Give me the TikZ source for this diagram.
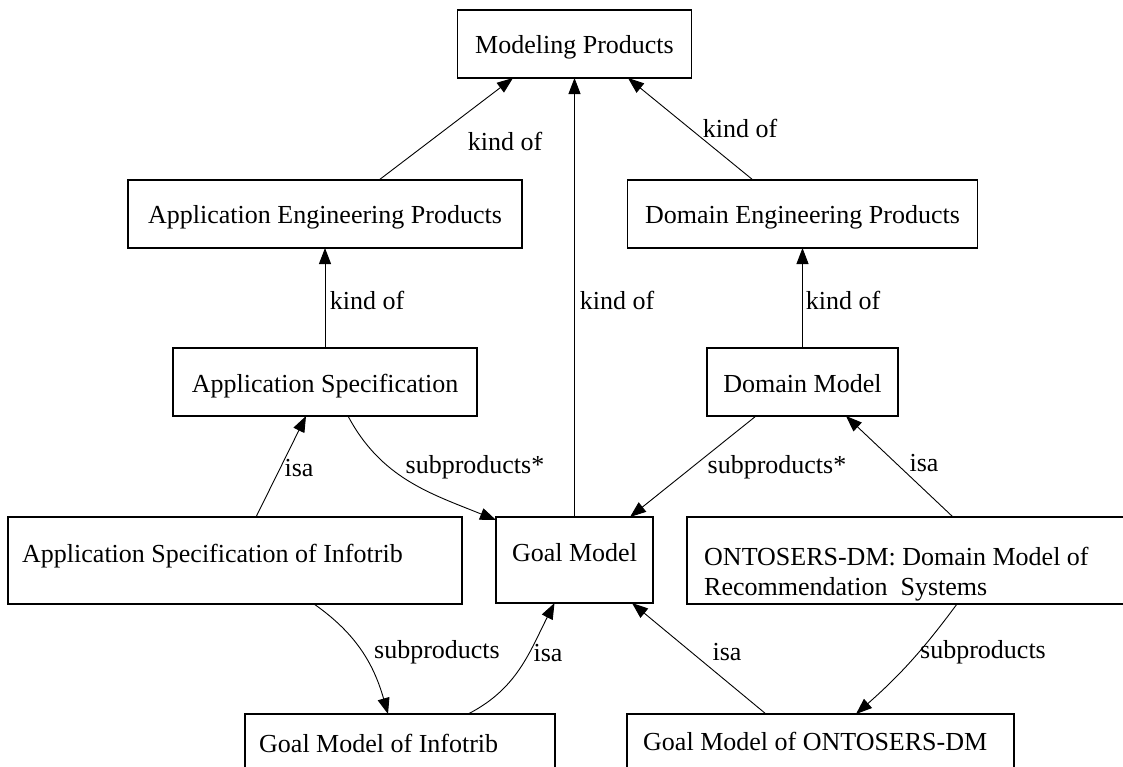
\documentclass[tikz,border=0pt]{standalone}
\usepackage{fontspec}
\setmainfont{Liberation Serif}
\usetikzlibrary{arrows.meta}
\begin{document}
\begin{tikzpicture}[x=1pt,y=-1pt,
  box/.style={draw, line width=1.3pt, inner sep=0pt, outer sep=0pt},
  txt/.style={inner sep=0pt, font=\fontsize{26}{30}\selectfont},
  lbl/.style={inner sep=0pt, font=\fontsize{26}{30}\selectfont},
  link/.style={line width=0.9pt, -{Triangle[length=16pt,width=12pt]}},
]
\clip (0,0) rectangle (1123,766);
\fill[white] (0,0) rectangle (1123,766);

% boxes
\node[box, minimum width=234pt, minimum height=68pt] (mp)   at (574.5,44)  {};
\node[box, minimum width=394pt, minimum height=68pt] (aep)  at (325,214)   {};
\node[box, minimum width=350pt, minimum height=68pt] (dep)  at (802.5,214) {};
\node[box, minimum width=304pt, minimum height=68pt] (as)   at (325,382)   {};
\node[box, minimum width=191pt, minimum height=68pt] (dm)   at (802.5,382) {};
\node[box, minimum width=454pt, minimum height=87pt] (asoi) at (235,560.5) {};
\node[box, minimum width=157pt, minimum height=86pt] (gm)   at (574.5,560) {};
\node[box, minimum width=443pt, minimum height=87pt] (ont)  at (908.5,560.5) {};
\node[box, minimum width=310pt, minimum height=86pt] (gmoi) at (400,757)   {};
\node[box, minimum width=387pt, minimum height=86pt] (gmoo) at (820.5,757) {};

% box texts
\node[txt, anchor=base] (tmp)   at (574.5,53)  {Modeling Products};
\node[txt, anchor=base] (taep)  at (325,223)   {Application Engineering Products};
\node[txt, anchor=base] (tdep)  at (802.5,223) {Domain Engineering Products};
\node[txt, anchor=base] (tas)   at (325,392)   {Application Specification};
\node[txt, anchor=base] (tdm)   at (802.5,392) {Domain Model};
\node[txt, anchor=base west] (tasoi) at (22,562) {Application Specification of Infotrib};
\node[txt, anchor=base] (tgm)   at (574.5,561) {Goal Model};
\node[txt, anchor=base west] (tont1) at (704,565) {ONTOSERS-DM: Domain Model of};
\node[txt, anchor=base west] (tont2) at (704,595) {Recommendation\hspace{0.5em}Systems};
\node[txt, anchor=base west] (tgmoi) at (259,752) {Goal Model of Infotrib};
\node[txt, anchor=base west] (tgmoo) at (643,750) {Goal Model of ONTOSERS-DM};

% kind-of links
\draw[link] ([xshift=54pt]aep.north) -- ([xshift=-61.5pt]mp.south);
\draw[link] (gm.north) -- (mp.south);
\draw[link] ([xshift=-49.5pt]dep.north) -- ([xshift=53.5pt]mp.south);
\draw[link] (as.north) -- (aep.south);
\draw[link] (dm.north) -- (dep.south);

% isa and subproduct links
\draw[link] ([xshift=21pt]asoi.north) -- ([xshift=-19pt]as.south);
\draw[link] ([xshift=23pt]as.south) to[out=-62,in=158] ([yshift=-3pt]gm.north west);
\draw[link] ([xshift=-46.5pt]dm.south) -- ([xshift=55.5pt]gm.north);
\draw[link] ([xshift=44.5pt]ont.north) -- ([xshift=43.5pt]dm.south);
\draw[link] ([xshift=79pt]asoi.south) to[out=-35,in=106] ([xshift=-12pt]gmoi.north);
\draw[link] ([xshift=68pt]gmoi.north) to[out=27,in=-117] ([xshift=-20pt]gm.south);
\draw[link] ([xshift=-54.5pt]gmoo.north) -- ([xshift=57.5pt]gm.south);
\draw[link] ([xshift=48.5pt]ont.south) to[bend left=6] ([xshift=35.5pt]gmoo.north);

% link labels
\node[lbl] (l1)  at (505,141)   {kind of};
\node[lbl] (l2)  at (617,300)   {kind of};
\node[lbl] (l3)  at (740,128)   {kind of};
\node[lbl] (l4)  at (367,300)   {kind of};
\node[lbl] (l5)  at (843,300)   {kind of};
\node[lbl] (l6)  at (299,468)   {isa};
\node[lbl] (l7)  at (475,467)   {subproducts*};
\node[lbl] (l8)  at (777,467)   {subproducts*};
\node[lbl] (l9)  at (924,463)   {isa};
\node[lbl] (l10) at (437,652)   {subproducts};
\node[lbl] (l11) at (548,653)   {isa};
\node[lbl] (l12) at (727,652)   {isa};
\node[lbl] (l13) at (983,652)   {subproducts};
\end{tikzpicture}
\end{document}
